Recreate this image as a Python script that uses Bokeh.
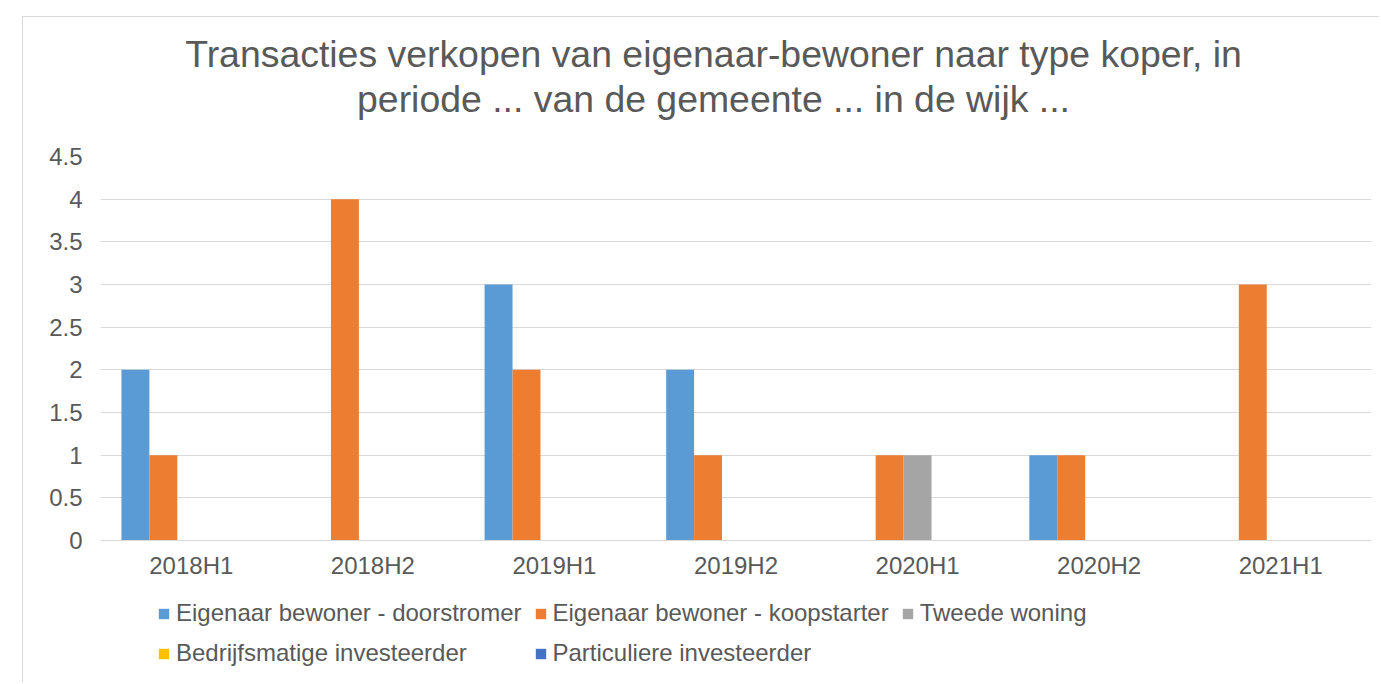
from bokeh.plotting import figure
from bokeh.layouts import column
from bokeh.models import (ColumnDataSource, FactorRange, Range1d, FixedTicker,
                          Label, Legend, LegendItem)
from bokeh.transform import dodge
from bokeh.embed import file_html
from bokeh.resources import INLINE

periods = ["2018H1", "2018H2", "2019H1", "2019H2", "2020H1", "2020H2", "2021H1"]
series_names = ["Eigenaar bewoner - doorstromer", "Eigenaar bewoner - koopstarter",
                "Tweede woning", "Bedrijfsmatige investeerder", "Particuliere investeerder"]
doorstromer = [2, 0, 3, 2, 0, 1, 0]
koopstarter = [1, 4, 2, 1, 1, 1, 3]
tweede_woning = [0, 0, 0, 0, 1, 0, 0]
bedrijfsmatig = [0, 0, 0, 0, 0, 0, 0]
particulier = [0, 0, 0, 0, 0, 0, 0]
colors = ["#5B9BD5", "#ED7D31", "#A5A5A5", "#FFC000", "#4472C4"]
y_ticks = [0, 0.5, 1, 1.5, 2, 2.5, 3, 3.5, 4, 4.5]
y_tick_labels = ["0", "0.5", "1", "1.5", "2", "2.5", "3", "3.5", "4", "4.5"]
title_lines = ["Transacties verkopen van eigenaar-bewoner naar type koper, in",
               "periode ... van de gemeente ... in de wijk ..."]

source = ColumnDataSource(dict(period=periods, s0=doorstromer, s1=koopstarter,
                               s2=tweede_woning, s3=bedrijfsmatig, s4=particulier))

FONT = "Liberation Sans"
TXT = "#595959"
GRID = "#D9D9D9"
W = 1356
bw = 1 / 6.5


def bare(fig):
    fig.outline_line_color = None
    fig.background_fill_color = "white"
    fig.border_fill_color = "white"
    fig.xgrid.visible = False
    fig.ygrid.visible = False


# ---- title strip ----
pt = figure(width=W, height=119, output_backend="svg", toolbar_location=None,
            x_range=Range1d(0, 1), y_range=Range1d(0, 1),
            x_axis_type=None, y_axis_type=None,
            min_border=0, min_border_left=77, min_border_right=8,
            min_border_top=0, min_border_bottom=0)
bare(pt)
for txt, yy in zip(title_lines, [83, 38]):
    pt.add_layout(Label(x=613, y=yy, x_units="screen", y_units="screen", text=txt,
                        text_align="center", text_baseline="alphabetic",
                        text_font=FONT, text_font_size="37.4px", text_color=TXT))

# ---- main chart ----
p = figure(x_range=FactorRange(*periods), y_range=Range1d(0, 4.5),
           width=W, height=461, output_backend="svg", toolbar_location=None,
           min_border_left=77, min_border_right=8, min_border_top=20,
           min_border_bottom=57)
p.outline_line_color = None
p.background_fill_color = "white"
p.border_fill_color = "white"

for i, col in enumerate(colors):
    p.vbar(x=dodge("period", (i - 2) * bw, range=p.x_range), top="s%d" % i,
           width=bw, source=source, fill_color=col, line_color=None)

p.xgrid.grid_line_color = None
p.ygrid.grid_line_color = GRID
p.ygrid.grid_line_width = 1

p.yaxis.ticker = FixedTicker(ticks=y_ticks)
p.yaxis.major_label_overrides = {t: l for t, l in zip(y_ticks, y_tick_labels)}
p.yaxis.axis_line_color = None
p.yaxis.major_tick_line_color = None
p.yaxis.minor_tick_line_color = None
p.yaxis.major_label_standoff = 12

p.xaxis.axis_line_color = GRID
p.xaxis.major_tick_line_color = None
p.xaxis.minor_tick_line_color = None
p.xaxis.major_label_standoff = 5

for ax in (p.xaxis[0], p.yaxis[0]):
    ax.major_label_text_font = FONT
    ax.major_label_text_font_size = "24px"
    ax.major_label_text_color = TXT

# ---- legend strip (bars out of view; only the legend shows) ----
pl = figure(width=W, height=85, output_backend="svg", toolbar_location=None,
            x_range=FactorRange(*periods), y_range=Range1d(100, 101),
            x_axis_type=None, y_axis_type=None,
            min_border=0, min_border_left=77, min_border_right=8,
            min_border_top=0, min_border_bottom=0)
bare(pl)
items = []
for i, (name, col) in enumerate(zip(series_names, colors)):
    r = pl.vbar(x=dodge("period", (i - 2) * bw, range=pl.x_range), top="s%d" % i,
                width=bw, source=source, fill_color=col, line_color=None)
    items.append(LegendItem(label=name, renderers=[r]))
lg = Legend(items=items, location=(57, 15), orientation="horizontal", ncols=3,
            padding=0, margin=0, spacing=12, border_line_color=None,
            background_fill_alpha=0, glyph_width=13, glyph_height=13,
            label_height=27, label_standoff=6, label_text_font=FONT,
            label_text_font_size="24px", label_text_color=TXT)
pl.add_layout(lg, "center")

layout = column(pt, p, pl, spacing=0, margin=(16, 0, 0, 22),
                styles={"border-left": "1px solid #D9D9D9",
                        "border-top": "1px solid #D9D9D9"})

open("out.html", "w").write(file_html(layout, INLINE))
